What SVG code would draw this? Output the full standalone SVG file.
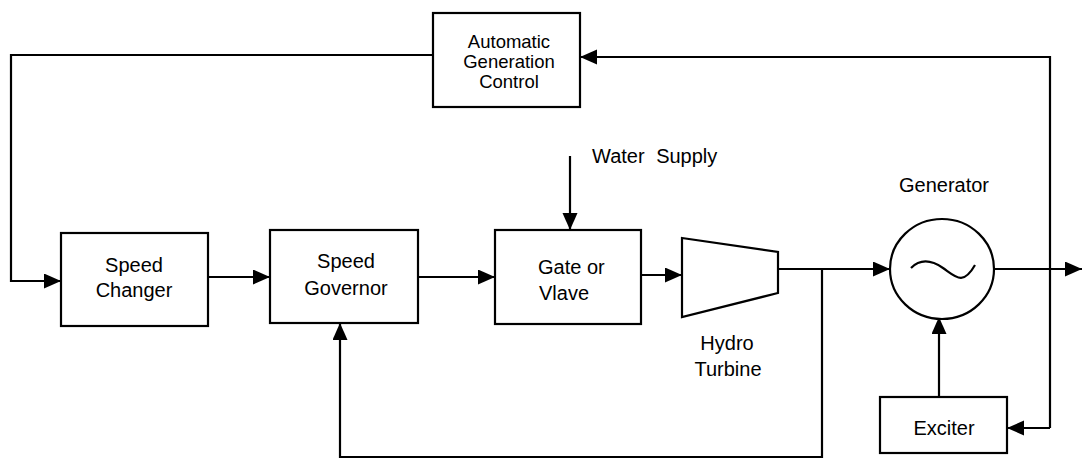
<svg xmlns="http://www.w3.org/2000/svg" width="1082" height="459" viewBox="0 0 1082 459">
<style>
.box{fill:#fff;stroke:#000;stroke-width:2.2}
.ln{fill:none;stroke:#000;stroke-width:2.2}
.t{font-family:"Liberation Sans",Arial,sans-serif;font-size:20px;fill:#000}
.s{font-size:18.5px}
.c{text-anchor:middle}
</style>
<defs>
<marker id="arr" markerUnits="userSpaceOnUse" markerWidth="18" markerHeight="16" refX="17" refY="7.5" orient="auto">
<path d="M0,0 L17,7.5 L0,15 z" fill="#000"/>
</marker>
</defs>
<rect width="1082" height="459" fill="#fff"/>
<g id="connectors">
<path class="ln" d="M433,55 L11,55 L11,281 L61,281" marker-end="url(#arr)"/>
<path class="ln" d="M208,277 L270,277" marker-end="url(#arr)"/>
<path class="ln" d="M418,277 L495,277" marker-end="url(#arr)"/>
<path class="ln" d="M570,156 L570,230" marker-end="url(#arr)"/>
<path class="ln" d="M641,275 L682,275" marker-end="url(#arr)"/>
<path class="ln" d="M777,269 L890,269" marker-end="url(#arr)"/>
<path class="ln" d="M822,269 L822,457 L340,457 L340,323" marker-end="url(#arr)"/>
<path class="ln" d="M994,269 L1082,269" marker-end="url(#arr)"/>
<path class="ln" d="M1050,428 L1050,57 L580,57" marker-end="url(#arr)"/>
<path class="ln" d="M1050,428 L1007,428" marker-end="url(#arr)"/>
<path class="ln" d="M939,397 L939,317" marker-end="url(#arr)"/>
</g>
<g id="agc">
<rect class="box" x="433" y="13" width="147" height="94"/>
<text class="t s c" x="509" y="48">Automatic</text>
<text class="t s c" x="509" y="68">Generation</text>
<text class="t s c" x="509" y="88">Control</text>
</g>
<g id="speed-changer">
<rect class="box" x="61" y="233" width="147" height="93"/>
<text class="t c" x="134" y="272">Speed</text>
<text class="t c" x="134" y="297">Changer</text>
</g>
<g id="speed-governor">
<rect class="box" x="270" y="230" width="148" height="93"/>
<text class="t c" x="346" y="268">Speed</text>
<text class="t c" x="346" y="295">Governor</text>
</g>
<g id="gate">
<rect class="box" x="495" y="230" width="146" height="94"/>
<text class="t" x="538" y="274">Gate or</text>
<text class="t" x="539" y="300">Vlave</text>
</g>
<g id="water-supply">
<text class="t" x="592" y="163" word-spacing="6">Water Supply</text>
</g>
<g id="turbine">
<polygon class="box" points="682,238 778,252 778,293 682,317"/>
<text class="t c" x="727" y="350">Hydro</text>
<text class="t c" x="728" y="376">Turbine</text>
</g>
<g id="generator">
<ellipse class="box" cx="942" cy="269" rx="52" ry="50"/>
<path class="ln" d="M911,268 C920,259 930,259 943,268 S963,286 975,265"/>
<text class="t c" x="944" y="192">Generator</text>
</g>
<g id="exciter">
<rect class="box" x="880" y="397" width="127" height="56"/>
<text class="t c" x="944" y="435">Exciter</text>
</g>
</svg>
